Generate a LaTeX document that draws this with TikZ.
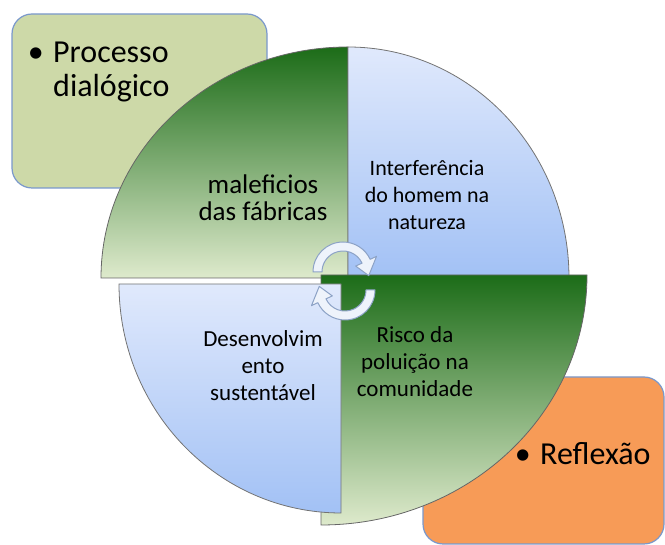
\documentclass[tikz,border=0pt]{standalone}
\usepackage{fontspec}
\setmainfont{Carlito}
\usetikzlibrary{positioning}
\definecolor{boxgreen}{RGB}{205,217,168}
\definecolor{boxorange}{RGB}{247,155,87}
\definecolor{boxedge}{RGB}{122,152,204}
\definecolor{leafdark}{RGB}{28,108,24}
\definecolor{leaflight}{RGB}{222,234,204}
\definecolor{skytop}{RGB}{224,233,252}
\definecolor{skybottom}{RGB}{162,193,245}
\definecolor{arrowfill}{RGB}{238,243,251}
\definecolor{arrowedge}{RGB}{140,162,198}

\begin{document}
\begin{tikzpicture}[x=1pt, y=1pt,
    sidebox/.style={draw=boxedge, line width=1.2pt, rounded corners=20pt},
    greenpart/.style={draw=black!60, line width=0.8pt, top color=leafdark, bottom color=leaflight},
    bluepart/.style={draw=black!55, line width=0.8pt, top color=skytop, bottom color=skybottom},
    cyclearrow/.style={draw=arrowedge, fill=arrowfill, line width=1pt, line join=round},
    bigtext/.style={font=\fontsize{32}{34}\selectfont, inner sep=0pt},
    parttext/.style={align=center, inner sep=0pt}]
      \useasboundingbox (0,0) rectangle (665,545);

      % Side boxes
      \draw[sidebox, fill=boxgreen] (12,357) rectangle (267,531);
      \draw[sidebox, fill=boxorange] (423,1) rectangle (664,168);

      % Box texts
      \node[bigtext, anchor=base west] (procA) at (53,482) {Processo};
      \node[bigtext, anchor=base west] (procB) at (53,448) {dialógico};
      \node[bigtext, anchor=base east] (procdot) at ([xshift=-9pt]procA.base west) {\textbullet};
      \node[bigtext, anchor=base west] (reflex) at (540,80) {Reflexão};
      \node[bigtext, anchor=base east] (reflexdot) at ([xshift=-9pt]reflex.base west) {\textbullet};

      % Quarters of the cycle
      \draw[greenpart] (348,267) -- (101,267) arc[start angle=180, end angle=90, x radius=247, y radius=231] -- cycle;
      \draw[bluepart] (348,267) -- (348,498) arc[start angle=90, end angle=0, x radius=221, y radius=231] -- cycle;
      \draw[greenpart] (321,270) -- (587,270) arc[start angle=0, end angle=-90, x radius=266, y radius=250] -- cycle;
      \draw[bluepart] (341,261) -- (341,32) arc[start angle=270, end angle=180, x radius=222, y radius=229] -- cycle;

      % Quarter texts
      \node[parttext, font=\fontsize{27}{27}\selectfont] (malef) at (263,347) {maleficios\\das fábricas};
      \node[parttext, font=\fontsize{22}{27}\selectfont] (interf) at (427,350) {Interferência\\do homem na\\natureza};
      \node[parttext, font=\fontsize{23}{27}\selectfont] (desenv) at (263,179) {Desenvolvim\\ento\\sustentável};
      \node[parttext, font=\fontsize{23}{27}\selectfont] (risco) at (415,183) {Risco da\\poluição na\\comunidade};

      % Cycle arrows
      \draw[cyclearrow, shift={(343,273)}] (180:21) -- (180:30) arc[start angle=180, end angle=25, radius=30]
        -- (25:37) -- (-8:26) -- (25:14) -- (25:21) arc[start angle=25, end angle=180, radius=21] -- cycle;
      \draw[cyclearrow, shift={(345,255)}, rotate=180] (180:21) -- (180:30) arc[start angle=180, end angle=25, radius=30]
        -- (25:37) -- (-8:26) -- (25:14) -- (25:21) arc[start angle=25, end angle=180, radius=21] -- cycle;
    \end{tikzpicture}
\end{document}
